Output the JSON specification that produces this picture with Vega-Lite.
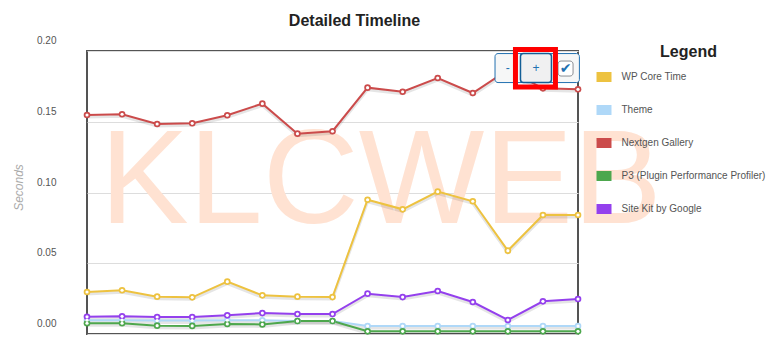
{
  "$schema": "https://vega.github.io/schema/vega-lite/v6.json",
  "width": 491,
  "height": 283,
  "autosize": "none",
  "padding": {"left": 87, "top": 51, "right": 193, "bottom": 19},
  "background": "white",
  "title": {"text": "Detailed Timeline", "fontSize": 16, "fontWeight": "bold", "font": "Liberation Sans", "color": "#222222", "anchor": "middle", "dx": 22, "offset": 7},
  "config": {"view": {"stroke": "#545454", "strokeWidth": 2}, "font": "Liberation Sans", "axisX": {"disable": true}},
  "data": {"values": [
      {"s": "WP Core Time", "i": 0, "v": 0.0297}, {"s": "WP Core Time", "i": 1, "v": 0.0309}, {"s": "WP Core Time", "i": 2, "v": 0.0264}, {"s": "WP Core Time", "i": 3, "v": 0.0259}, {"s": "WP Core Time", "i": 4, "v": 0.037}, {"s": "WP Core Time", "i": 5, "v": 0.0273}, {"s": "WP Core Time", "i": 6, "v": 0.0264}, {"s": "WP Core Time", "i": 7, "v": 0.0261}, {"s": "WP Core Time", "i": 8, "v": 0.0949}, {"s": "WP Core Time", "i": 9, "v": 0.0881}, {"s": "WP Core Time", "i": 10, "v": 0.1006}, {"s": "WP Core Time", "i": 11, "v": 0.0938}, {"s": "WP Core Time", "i": 12, "v": 0.0589}, {"s": "WP Core Time", "i": 13, "v": 0.0841}, {"s": "WP Core Time", "i": 14, "v": 0.0841},
      {"s": "Theme", "i": 0, "v": 0.0098}, {"s": "Theme", "i": 1, "v": 0.0098}, {"s": "Theme", "i": 2, "v": 0.0095}, {"s": "Theme", "i": 3, "v": 0.0095}, {"s": "Theme", "i": 4, "v": 0.0097}, {"s": "Theme", "i": 5, "v": 0.0097}, {"s": "Theme", "i": 6, "v": 0.0092}, {"s": "Theme", "i": 7, "v": 0.0092}, {"s": "Theme", "i": 8, "v": 0.0056}, {"s": "Theme", "i": 9, "v": 0.0056}, {"s": "Theme", "i": 10, "v": 0.0056}, {"s": "Theme", "i": 11, "v": 0.0056}, {"s": "Theme", "i": 12, "v": 0.0056}, {"s": "Theme", "i": 13, "v": 0.0056}, {"s": "Theme", "i": 14, "v": 0.0056},
      {"s": "Nextgen Gallery", "i": 0, "v": 0.1548}, {"s": "Nextgen Gallery", "i": 1, "v": 0.1553}, {"s": "Nextgen Gallery", "i": 2, "v": 0.1484}, {"s": "Nextgen Gallery", "i": 3, "v": 0.1489}, {"s": "Nextgen Gallery", "i": 4, "v": 0.1546}, {"s": "Nextgen Gallery", "i": 5, "v": 0.1628}, {"s": "Nextgen Gallery", "i": 6, "v": 0.1416}, {"s": "Nextgen Gallery", "i": 7, "v": 0.1433}, {"s": "Nextgen Gallery", "i": 8, "v": 0.1741}, {"s": "Nextgen Gallery", "i": 9, "v": 0.1712}, {"s": "Nextgen Gallery", "i": 10, "v": 0.1809}, {"s": "Nextgen Gallery", "i": 11, "v": 0.1703}, {"s": "Nextgen Gallery", "i": 12, "v": 0.1866}, {"s": "Nextgen Gallery", "i": 13, "v": 0.1736}, {"s": "Nextgen Gallery", "i": 14, "v": 0.1729},
      {"s": "P3 (Plugin Performance Profiler)", "i": 0, "v": 0.0076}, {"s": "P3 (Plugin Performance Profiler)", "i": 1, "v": 0.0076}, {"s": "P3 (Plugin Performance Profiler)", "i": 2, "v": 0.0059}, {"s": "P3 (Plugin Performance Profiler)", "i": 3, "v": 0.0057}, {"s": "P3 (Plugin Performance Profiler)", "i": 4, "v": 0.0071}, {"s": "P3 (Plugin Performance Profiler)", "i": 5, "v": 0.0068}, {"s": "P3 (Plugin Performance Profiler)", "i": 6, "v": 0.0092}, {"s": "P3 (Plugin Performance Profiler)", "i": 7, "v": 0.0092}, {"s": "P3 (Plugin Performance Profiler)", "i": 8, "v": 0.0019}, {"s": "P3 (Plugin Performance Profiler)", "i": 9, "v": 0.0019}, {"s": "P3 (Plugin Performance Profiler)", "i": 10, "v": 0.0019}, {"s": "P3 (Plugin Performance Profiler)", "i": 11, "v": 0.0019}, {"s": "P3 (Plugin Performance Profiler)", "i": 12, "v": 0.0019}, {"s": "P3 (Plugin Performance Profiler)", "i": 13, "v": 0.0019}, {"s": "P3 (Plugin Performance Profiler)", "i": 14, "v": 0.0019},
      {"s": "Site Kit by Google", "i": 0, "v": 0.0122}, {"s": "Site Kit by Google", "i": 1, "v": 0.0125}, {"s": "Site Kit by Google", "i": 2, "v": 0.012}, {"s": "Site Kit by Google", "i": 3, "v": 0.012}, {"s": "Site Kit by Google", "i": 4, "v": 0.0132}, {"s": "Site Kit by Google", "i": 5, "v": 0.0148}, {"s": "Site Kit by Google", "i": 6, "v": 0.0141}, {"s": "Site Kit by Google", "i": 7, "v": 0.0141}, {"s": "Site Kit by Google", "i": 8, "v": 0.0285}, {"s": "Site Kit by Google", "i": 9, "v": 0.0261}, {"s": "Site Kit by Google", "i": 10, "v": 0.0304}, {"s": "Site Kit by Google", "i": 11, "v": 0.0226}, {"s": "Site Kit by Google", "i": 12, "v": 0.0099}, {"s": "Site Kit by Google", "i": 13, "v": 0.0231}, {"s": "Site Kit by Google", "i": 14, "v": 0.0247}
  ]},
  "layer": [
    {
      "data": {"values": [{"w": "KLCWEB"}]},
      "mark": {"type": "text", "font": "Liberation Sans", "fontSize": 133, "color": "#ffe2d2", "align": "center", "baseline": "alphabetic"},
      "encoding": {
        "x": {"datum": 8.38, "type": "quantitative"},
        "y": {"datum": 0.0784, "type": "quantitative"},
        "text": {"field": "w", "type": "nominal"}
      }
    },
    {
      "mark": {"type": "line", "color": "#000000", "opacity": 0.1, "strokeWidth": 3, "yOffset": 2},
      "encoding": {
        "x": {"field": "i", "type": "quantitative", "scale": {"domain": [0, 14], "nice": false, "zero": false}},
        "y": {"field": "v", "type": "quantitative", "scale": {"domain": [0, 0.2], "nice": false},
          "axis": {"title": "Seconds", "titleFontStyle": "italic", "titleFontWeight": "normal", "titleColor": "#aaaaaa", "titleFontSize": 12, "titleX": -69, "titleY": 136, "titleAngle": -90, "titleAlign": "center", "titleBaseline": "middle", "values": [0, 0.05, 0.1, 0.15, 0.2], "format": ".2f", "labelFontSize": 10, "labelColor": "#545454", "labelPadding": 31, "labelOffset": -10.5, "ticks": false, "domain": false, "grid": true, "gridColor": "#dddddd", "gridWidth": 1}},
        "detail": {"field": "s", "type": "nominal"}
      }
    },
    {
      "mark": {"type": "line", "strokeWidth": 2},
      "encoding": {
        "x": {"field": "i", "type": "quantitative", "scale": {"domain": [0, 14], "nice": false, "zero": false}},
        "y": {"field": "v", "type": "quantitative", "scale": {"domain": [0, 0.2], "nice": false},
          "axis": {"title": "Seconds", "titleFontStyle": "italic", "titleFontWeight": "normal", "titleColor": "#aaaaaa", "titleFontSize": 12, "titleX": -69, "titleY": 136, "titleAngle": -90, "titleAlign": "center", "titleBaseline": "middle", "values": [0, 0.05, 0.1, 0.15, 0.2], "format": ".2f", "labelFontSize": 10, "labelColor": "#545454", "labelPadding": 31, "labelOffset": -10.5, "ticks": false, "domain": false, "grid": true, "gridColor": "#dddddd", "gridWidth": 1}},
        "color": {"field": "s", "type": "nominal",
          "scale": {"domain": ["WP Core Time", "Theme", "Nextgen Gallery", "P3 (Plugin Performance Profiler)", "Site Kit by Google"], "range": ["#edc240", "#afd8f8", "#cb4b4b", "#4da74d", "#9440ed"]},
          "legend": {"title": null, "orient": "none", "legendX": 504.5, "legendY": 13.5, "padding": 0, "symbolType": "M-1,0H1", "symbolSize": 225, "symbolStrokeWidth": 10, "labelFontSize": 10, "labelColor": "#545454", "labelOffset": 5, "rowPadding": -19, "labelFont": "Liberation Sans", "labelLimit": 300}}
      }
    },
    {
      "mark": {"type": "point", "filled": true, "size": 44, "opacity": 1},
      "encoding": {
        "x": {"field": "i", "type": "quantitative", "scale": {"domain": [0, 14], "nice": false, "zero": false}},
        "y": {"field": "v", "type": "quantitative", "scale": {"domain": [0, 0.2], "nice": false},
          "axis": {"title": "Seconds", "titleFontStyle": "italic", "titleFontWeight": "normal", "titleColor": "#aaaaaa", "titleFontSize": 12, "titleX": -69, "titleY": 136, "titleAngle": -90, "titleAlign": "center", "titleBaseline": "middle", "values": [0, 0.05, 0.1, 0.15, 0.2], "format": ".2f", "labelFontSize": 10, "labelColor": "#545454", "labelPadding": 31, "labelOffset": -10.5, "ticks": false, "domain": false, "grid": true, "gridColor": "#dddddd", "gridWidth": 1}},
        "color": {"field": "s", "type": "nominal", "legend": null}
      }
    },
    {
      "mark": {"type": "point", "filled": true, "size": 10, "color": "white", "opacity": 1},
      "encoding": {
        "x": {"field": "i", "type": "quantitative", "scale": {"domain": [0, 14], "nice": false, "zero": false}},
        "y": {"field": "v", "type": "quantitative", "scale": {"domain": [0, 0.2], "nice": false},
          "axis": {"title": "Seconds", "titleFontStyle": "italic", "titleFontWeight": "normal", "titleColor": "#aaaaaa", "titleFontSize": 12, "titleX": -69, "titleY": 136, "titleAngle": -90, "titleAlign": "center", "titleBaseline": "middle", "values": [0, 0.05, 0.1, 0.15, 0.2], "format": ".2f", "labelFontSize": 10, "labelColor": "#545454", "labelPadding": 31, "labelOffset": -10.5, "ticks": false, "domain": false, "grid": true, "gridColor": "#dddddd", "gridWidth": 1}}
      }
    },
    {
      "data": {"values": [{}]},
      "mark": {"type": "rect", "fill": "#f6f7f7", "stroke": "#2271b1", "strokeWidth": 1, "cornerRadius": 3},
      "encoding": {"x": {"datum": 11.634, "type": "quantitative"}, "x2": {"datum": 14.04}, "y": {"datum": 0.1982, "type": "quantitative"}, "y2": {"datum": 0.1777}}
    },
    {
      "data": {"values": [{}]},
      "mark": {"type": "rect", "fill": "#f0f0f1", "stroke": "#135e96", "strokeWidth": 1.5, "cornerRadius": 3},
      "encoding": {"x": {"datum": 12.36, "type": "quantitative"}, "x2": {"datum": 13.243}, "y": {"datum": 0.1982, "type": "quantitative"}, "y2": {"datum": 0.1777}}
    },
    {
      "data": {"values": [{}]},
      "mark": {"type": "rect", "fill": "white", "stroke": "#8c8f94", "strokeWidth": 1, "cornerRadius": 3},
      "encoding": {"x": {"datum": 13.431, "type": "quantitative"}, "x2": {"datum": 13.859}, "y": {"datum": 0.1929, "type": "quantitative"}, "y2": {"datum": 0.1823}}
    },
    {
      "data": {"values": [{"t": "✔"}]},
      "mark": {"type": "text", "font": "DejaVu Sans", "fontSize": 14, "color": "#2271b1", "align": "center", "baseline": "middle"},
      "encoding": {"x": {"datum": 13.645, "type": "quantitative"}, "y": {"datum": 0.1876, "type": "quantitative"}, "text": {"field": "t", "type": "nominal"}}
    },
    {
      "data": {"values": [{"t": "-"}]},
      "mark": {"type": "text", "font": "Liberation Sans", "fontSize": 12, "color": "#2271b1", "align": "center", "baseline": "middle"},
      "encoding": {"x": {"datum": 11.994, "type": "quantitative"}, "y": {"datum": 0.188, "type": "quantitative"}, "text": {"field": "t", "type": "nominal"}}
    },
    {
      "data": {"values": [{"t": "+"}]},
      "mark": {"type": "text", "font": "Liberation Sans", "fontSize": 12, "color": "#2271b1", "align": "center", "baseline": "middle"},
      "encoding": {"x": {"datum": 12.8, "type": "quantitative"}, "y": {"datum": 0.188, "type": "quantitative"}, "text": {"field": "t", "type": "nominal"}}
    },
    {
      "data": {"values": [{}]},
      "mark": {"type": "rect", "fillOpacity": 0, "fill": "white", "stroke": "#ff0000", "strokeWidth": 5},
      "encoding": {"x": {"datum": 12.217, "type": "quantitative"}, "x2": {"datum": 13.357}, "y": {"datum": 0.2011, "type": "quantitative"}, "y2": {"datum": 0.1746}}
    },
    {
      "data": {"values": [{"t": "Legend"}]},
      "mark": {"type": "text", "font": "Liberation Sans", "fontSize": 16, "fontWeight": "bold", "color": "#222222", "align": "center", "baseline": "alphabetic"},
      "encoding": {"x": {"datum": 17.15, "type": "quantitative"}, "y": {"datum": 0.1959, "type": "quantitative"}, "text": {"field": "t", "type": "nominal"}}
    }
  ]
}
